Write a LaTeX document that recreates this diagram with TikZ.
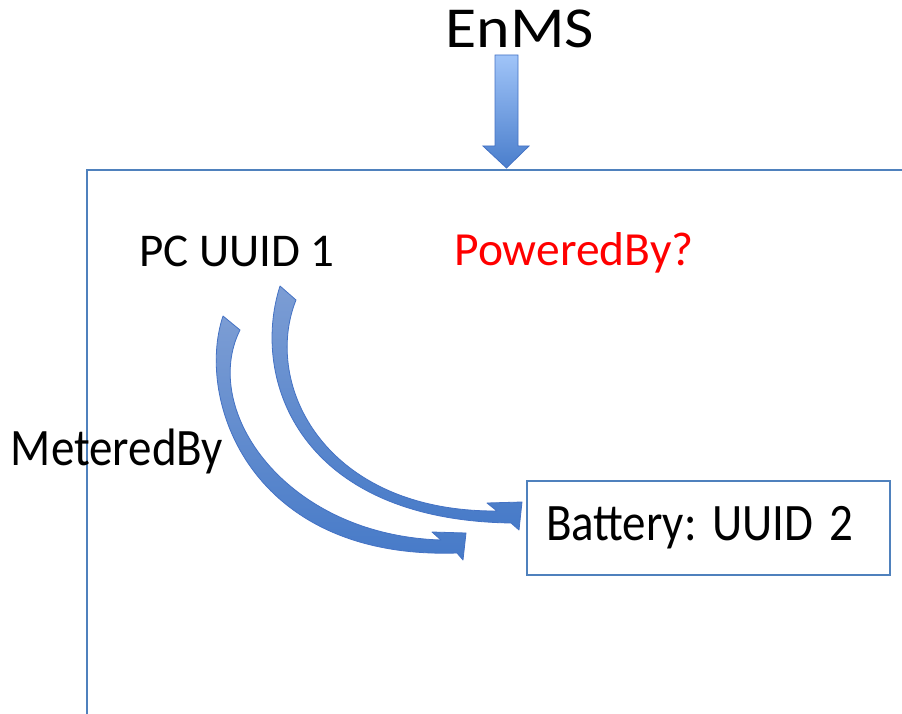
\documentclass[tikz,border=0pt]{standalone}
\usepackage{fontspec}
\setmainfont{Carlito}
\frenchspacing
\definecolor{frameblue}{RGB}{79,129,189}
\definecolor{arrlight}{RGB}{124,157,212}
\definecolor{arrdark}{RGB}{70,122,200}
\definecolor{toplight}{RGB}{160,196,248}
\definecolor{topdark}{RGB}{74,126,204}
\definecolor{arredge}{RGB}{68,114,196}
\begin{document}
\begin{tikzpicture}[x=1pt,y=-1pt,
  lbl/.style={inner sep=0pt, anchor=base},
  framebox/.style={draw=frameblue, line width=2pt},
  curvarrow/.style={draw=arredge, line width=0.8pt, top color=arrlight, bottom color=arrdark, line join=round},
  downarrow/.style={draw=arredge, line width=0.8pt, top color=toplight, bottom color=topdark}
]
\useasboundingbox (0,0) rectangle (902,714);
\fill[white] (0,0) rectangle (902,714);
% frame
\draw[framebox] (910,170) -- (86.5,170) -- (86.5,720);
% texts
\node[lbl, font=\fontsize{58}{64}\selectfont] (enms) at (520,48) {\scalebox{1.1}[1]{EnMS}};
\node[lbl, font=\fontsize{47}{54}\selectfont] (pc) at (237,266) {PC UUID 1};
\node[lbl, font=\fontsize{47.5}{54}\selectfont, text=red] (powered) at (574,265) {PoweredBy?};
\node[lbl, font=\fontsize{47}{54}\selectfont] (metered) at (117,465) {\scalebox{1}[1.12]{MeteredBy}};
\node[draw=frameblue, line width=1.6pt, minimum width=363pt, minimum height=94pt,
      text width=325pt, align=left, inner xsep=19pt, font=\fontsize{47}{54}\selectfont] (battery) at (708.5,528) {\scalebox{1}[1.12]{Battery: UUID 2}};
% top block arrow
\path[downarrow] (495,55) -- (518,55) -- (518,146) -- (529,146) -- (506.5,168) -- (483,146) -- (495,146) -- cycle;
% curved arrow 1 (MeteredBy)
\path[curvarrow] (223,316) -- (240,330)
  .. controls (200,410) and (285,535) .. (441,540)
  -- (432,532) -- (466,533) -- (463,560) -- (457,553)
  .. controls (250,560) and (195,400) .. (223,316) -- cycle;
% curved arrow 2 (PoweredBy)
\path[curvarrow] (280,286) -- (296,300)
  .. controls (262,385) and (325,512) .. (497,511)
  -- (487,503) -- (522,502) -- (519,530) -- (511,523)
  .. controls (300,520) and (250,380) .. (280,286) -- cycle;
\end{tikzpicture}
\end{document}
